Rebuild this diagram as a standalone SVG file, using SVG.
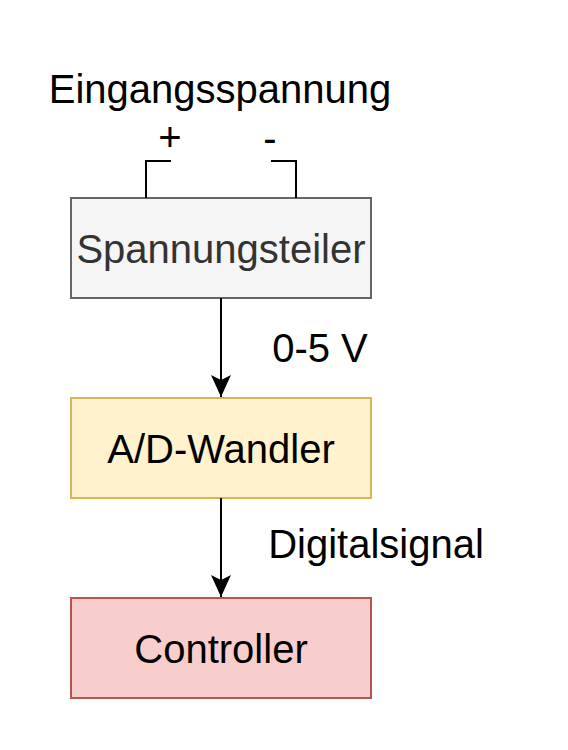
<svg xmlns="http://www.w3.org/2000/svg" width="568" height="750" viewBox="0 0 568 750">
<style>
text{font-family:"Liberation Sans",Arial,sans-serif;font-size:40px;fill:#000}
.box{stroke-width:2}
.c{text-anchor:middle}
.wire{fill:none;stroke:#000;stroke-width:2}
</style>
<defs>
<marker id="ah" viewBox="0 0 22 20" refX="22" refY="10" markerWidth="22" markerHeight="20" markerUnits="userSpaceOnUse" orient="auto">
<path d="M0,0 L22,10 L0,20 L5,10 Z" fill="#000"/>
</marker>
</defs>
<rect width="568" height="750" fill="#fff"/>
<g id="input">
<text x="220" y="103" class="c">Eingangsspannung</text>
<text x="170" y="151" class="c">+</text>
<text x="270" y="152" class="c">-</text>
</g>
<g id="spannungsteiler">
<rect class="box" x="71" y="198" width="300" height="100" fill="#f5f5f5" stroke="#666666"/>
<text x="221" y="262.5" class="c" style="fill:#333333">Spannungsteiler</text>
</g>
<g id="adwandler">
<rect class="box" x="71" y="398" width="300" height="100" fill="#fff2cc" stroke="#d6b656"/>
<text x="221" y="462.5" class="c">A/D-Wandler</text>
</g>
<g id="controller">
<rect class="box" x="71" y="598" width="300" height="100" fill="#f8cecc" stroke="#b85450"/>
<text x="221" y="662.5" class="c">Controller</text>
</g>
<g id="connectors">
<path class="wire" d="M171,161 H146 V198"/>
<path class="wire" d="M271,161 H296 V198"/>
<path class="wire" d="M221,298 V397" marker-end="url(#ah)"/>
<path class="wire" d="M221,498 V597" marker-end="url(#ah)"/>
<text x="320" y="362" class="c">0-5 V</text>
<text x="376" y="558" class="c">Digitalsignal</text>
</g>
</svg>
